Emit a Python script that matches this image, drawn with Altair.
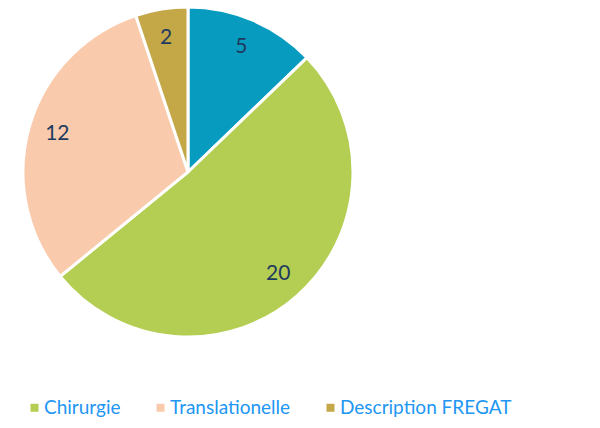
import altair as alt
import pandas as pd

categories = ["Biologie", "Chirurgie", "Translationelle", "Description FREGAT"]
values = [5, 20, 12, 2]
colors = ["#069BBF", "#B3CE52", "#F9CBAC", "#C4A746"]
legend_items = ["Chirurgie", "Translationelle", "Description FREGAT"]

df = pd.DataFrame({"cat": categories, "val": values, "ord": list(range(len(values)))})

base = alt.Chart(df).encode(
    theta=alt.Theta("val:Q", stack=True),
    order=alt.Order("ord:Q"),
)

arcs = base.mark_arc(outerRadius=165, stroke="white", strokeWidth=3).encode(
    x=alt.value(180), y=alt.value(164),
    color=alt.Color(
        "cat:N",
        scale=alt.Scale(domain=categories, range=colors),
        legend=alt.Legend(
            values=legend_items, orient="none", legendX=17, legendY=390,
            direction="horizontal", title=None, symbolType="square",
            symbolSize=64, symbolStrokeWidth=0, labelFontSize=19,
            labelFont="Lato", labelColor="#2196F3", columnPadding=30,
            symbolOffset=0, labelOffset=0, labelLimit=400,
        ),
    ),
)

labels = base.mark_text(radius=136, fontSize=21, font="Lato", color="#1F3A5F").encode(
    x=alt.value(180), y=alt.value(164),
    text="val:Q",
)

chart = (arcs + labels).properties(
    width=584, height=412, autosize=alt.AutoSizeParams(type="none"), padding=0
).configure_view(stroke=None)

chart.save("out.html", embed_options={"renderer": "svg", "actions": False})
